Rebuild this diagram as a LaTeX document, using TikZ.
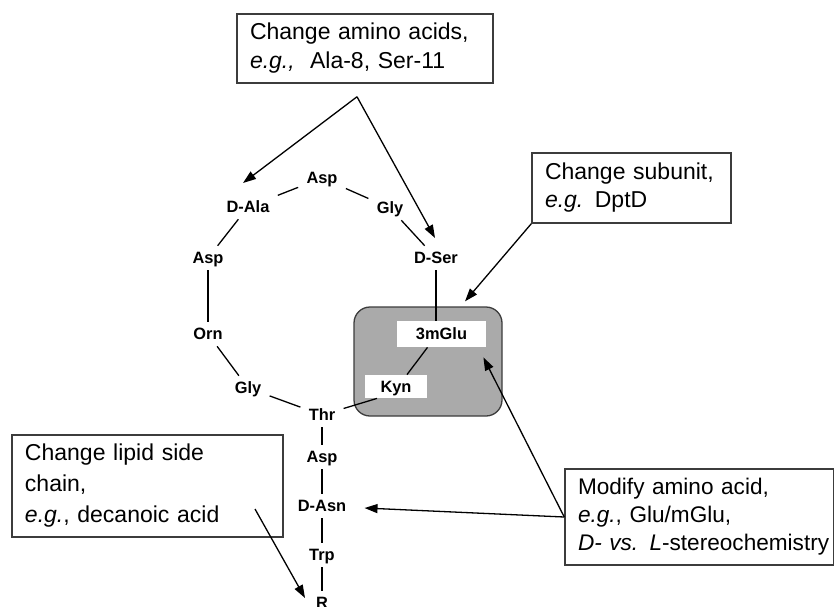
\documentclass[tikz,border=0pt]{standalone}
\usepackage{fontspec}
\setmainfont{Liberation Sans}
\usetikzlibrary{arrows.meta,calc}
\definecolor{boxgray}{RGB}{170,170,170}
\definecolor{edgecol}{RGB}{60,60,60}
\begin{document}
\begin{tikzpicture}[x=0.5pt,y=-0.5pt,
  aa/.style={font=\fontsize{8.2}{9.8}\selectfont\bfseries, inner xsep=4pt, inner ysep=3pt, text height=5.9pt, text depth=0pt},
  bond/.style={line width=0.65pt},
  arr/.style={line width=0.65pt, -{Triangle[length=6.5pt,width=4.5pt]}},
  tbox/.style={draw=edgecol, line width=0.75pt, align=left, inner xsep=6.5pt, inner ysep=0pt},
  wbox/.style={fill=white, font=\fontsize{8.2}{9.8}\selectfont\bfseries, inner sep=0pt, text height=5.9pt, text depth=0pt}]
\useasboundingbox (0,0) rectangle (835,606);

% grey subunit box
\node[draw=edgecol, line width=0.65pt, fill=boxgray, rounded corners=8pt, minimum width=74pt, minimum height=54.5pt, inner sep=0pt] (gbox) at (428,361.5) {};

% text boxes
\node[tbox, text width=115pt, minimum height=34.5pt, font=\fontsize{11.5}{14.5}\selectfont] (chg) at (365,48.5)
  {Change amino acids,\\\textit{e.g.,}~~Ala-8, Ser-11};
\node[tbox, text width=86.5pt, minimum height=35pt, font=\fontsize{11.5}{14}\selectfont] (sub) at (631.5,188)
  {Change subunit,\\\textit{e.g.} DptD};
\node[tbox, text width=122.5pt, minimum height=51pt, font=\fontsize{11.5}{15.5}\selectfont] (lip) at (147.5,486)
  {Change lipid side\\chain,\\\textit{e.g.}, decanoic acid};
\node[tbox, inner xsep=6.5pt, text width=121.25pt, minimum height=48pt, font=\fontsize{11.3}{14}\selectfont] (mod) at (699.25,517)
  {Modify amino acid,\\\textit{e.g.}, Glu/mGlu,\\\mbox{\textit{D- vs. L}-stereochemistry}};

% amino acids
\node[aa] (asp1) at (322,178) {Asp};
\node[aa] (dala) at (248,207) {D-Ala};
\node[aa] (gly1) at (390,208) {Gly};
\node[aa] (dser) at (436,258) {D-Ser};
\node[aa] (asp2) at (208,258) {Asp};
\node[aa] (orn) at (208,334) {Orn};
\node[aa] (gly2) at (248,388) {Gly};
\node[aa] (thr) at (322,415) {Thr};
\node[aa] (asp3) at (322,457) {Asp};
\node[aa] (dasn) at (322,506) {D-Asn};
\node[aa] (trp) at (322,555) {Trp};
\node[aa] (r) at (322,603) {R};
\node[wbox, minimum width=44.5pt, minimum height=13pt] (glu) at (441.5,334) {3mGlu};
\node[wbox, minimum width=31pt, minimum height=11.5pt] (kyn) at (396,386.5) {Kyn};

% bonds
\draw[bond] (dala) -- (asp1);
\draw[bond] (asp1) -- (gly1);
\draw[bond] (gly1) -- (dser);
\draw[bond] (dala) -- (asp2);
\draw[bond] (asp2) -- (orn);
\draw[bond] (orn) -- (gly2);
\draw[bond] (gly2) -- (thr);
\draw[bond] (thr) -- (asp3);
\draw[bond] (asp3) -- (dasn);
\draw[bond] (dasn) -- (trp);
\draw[bond] (trp) -- (r);
\draw[bond] (dser) -- (dser |- glu.north);
\draw[bond] ($(glu.south)+(-14,0)$) -- ($(kyn.north)+(11,0)$);
\draw[bond] (thr) -- ($(kyn.south)+(-19,0)$);

% arrows
\coordinate (apex) at ($(chg.south)+(-8,13)$);
\coordinate (dalaT) at ($(dala)+(-5,-24)$);
\coordinate (dserT) at ($(dser)+(-1,-20)$);
\draw[arr] (apex) -- (dalaT);
\draw[arr] (apex) -- (dserT);
\coordinate (gboxT) at ($(gbox.north)+(37,-5)$);
\draw[arr] (sub.south west) -- (gboxT);
\draw[arr] (mod.west) -- ($(glu.south east)+(-3,10)$);
\draw[arr] (mod.west) -- ($(dasn.east)+(10,2)$);
\coordinate (lipS) at ($(lip.center)+(107.5,23)$);
\coordinate (rT) at ($(r)+(-17,-5)$);
\draw[arr] (lipS) -- (rT);
\end{tikzpicture}
\end{document}
